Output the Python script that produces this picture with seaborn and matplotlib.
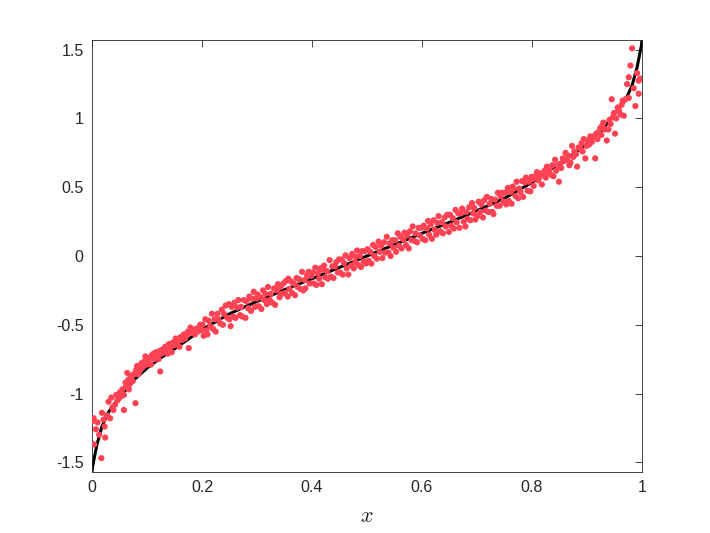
"""
Noisy samples scattered around a monotone S-shaped curve on [0, 1].
"""

import matplotlib
matplotlib.use('Agg')
import matplotlib.pyplot as plt
import seaborn as sns
import pandas as pd

# Curve
curve_x = [0, 0.001, 0.003, 0.009, 0.018, 0.03, 0.05, 0.075, 0.1, 0.125, 0.15,
           0.2, 0.25, 0.3, 0.35, 0.4, 0.45, 0.5, 0.55, 0.6, 0.65, 0.7, 0.75,
           0.8, 0.85, 0.875, 0.9, 0.925, 0.95, 0.97, 0.982, 0.991, 0.997, 0.999, 1]
curve_y = [-1.571, -1.53, -1.49, -1.37, -1.24, -1.135, -1.03, -0.905, -0.815,
           -0.74, -0.675, -0.535, -0.42, -0.33, -0.245, -0.165, -0.083, 0,
           0.083, 0.165, 0.245, 0.33, 0.42, 0.535, 0.675, 0.74, 0.815, 0.905,
           1.03, 1.135, 1.24, 1.37, 1.49, 1.53, 1.571]

# Samples
pts_x = [
    0.001, 0.003, 0.004, 0.007, 0.010, 0.013, 0.017, 0.018, 0.021, 0.023, 0.024,
    0.027, 0.030, 0.033, 0.035, 0.037, 0.039, 0.042, 0.044, 0.046, 0.048,
    0.051, 0.053, 0.055, 0.058, 0.058, 0.061, 0.062, 0.064, 0.066, 0.067, 0.069,
    0.070, 0.072, 0.074, 0.076, 0.079, 0.080, 0.082, 0.084, 0.086, 0.088, 0.090,
    0.092, 0.094, 0.097, 0.099,
    0.101, 0.103, 0.105, 0.107, 0.109, 0.112, 0.114, 0.116, 0.118, 0.121, 0.123,
    0.124, 0.126, 0.128, 0.131, 0.133, 0.136, 0.138, 0.140, 0.142, 0.145, 0.147,
    0.149,
    0.152, 0.154, 0.156, 0.159, 0.161, 0.164, 0.167, 0.169, 0.172, 0.174, 0.176,
    0.179, 0.181, 0.184, 0.187, 0.189, 0.192, 0.194, 0.197, 0.199,
    0.201, 0.203, 0.206, 0.208, 0.210, 0.212, 0.215, 0.218, 0.220, 0.223, 0.225,
    0.228, 0.230, 0.233, 0.236, 0.238, 0.240, 0.243, 0.246, 0.249, 0.250,
    0.252, 0.254, 0.257, 0.259, 0.261, 0.264, 0.266, 0.269, 0.271, 0.273, 0.276,
    0.279, 0.281, 0.284, 0.286, 0.289, 0.291, 0.294, 0.296, 0.299,
    0.301, 0.303, 0.306, 0.308, 0.311, 0.313, 0.315, 0.318, 0.320, 0.323, 0.325,
    0.328, 0.331, 0.333, 0.336, 0.338, 0.341, 0.343, 0.345, 0.348,
    0.351, 0.353, 0.356, 0.357, 0.359, 0.362, 0.364, 0.367, 0.369, 0.372, 0.374,
    0.377, 0.379, 0.382, 0.384, 0.387, 0.388, 0.391, 0.394, 0.396, 0.399,
    0.401, 0.403, 0.406, 0.408, 0.411, 0.413, 0.415, 0.418, 0.420, 0.422, 0.424,
    0.427, 0.429, 0.432, 0.434, 0.437, 0.439, 0.442, 0.444, 0.447, 0.449,
    0.451, 0.454, 0.456, 0.458, 0.461, 0.463, 0.466, 0.468, 0.471, 0.473, 0.476,
    0.478, 0.479, 0.482, 0.484, 0.487, 0.489, 0.491, 0.494, 0.496, 0.498,
    0.501, 0.503, 0.506, 0.508, 0.511, 0.513, 0.516, 0.518, 0.521, 0.523, 0.526,
    0.528, 0.531, 0.533, 0.536, 0.539, 0.541, 0.543, 0.546, 0.548,
    0.551, 0.553, 0.556, 0.558, 0.561, 0.563, 0.566, 0.568, 0.571, 0.573, 0.576,
    0.578, 0.581, 0.583, 0.586, 0.588, 0.591, 0.594, 0.596, 0.599,
    0.601, 0.603, 0.606, 0.609, 0.611, 0.613, 0.616, 0.618, 0.621, 0.623, 0.626,
    0.628, 0.630, 0.633, 0.636, 0.638, 0.641, 0.643, 0.646, 0.649,
    0.651, 0.653, 0.656, 0.658, 0.661, 0.663, 0.666, 0.668, 0.671, 0.673, 0.676,
    0.679, 0.681, 0.683, 0.686, 0.688, 0.691, 0.693, 0.695, 0.697,
    0.701, 0.703, 0.706, 0.708, 0.711, 0.713, 0.716, 0.718, 0.721, 0.723, 0.726,
    0.728, 0.730, 0.733, 0.736, 0.738, 0.741, 0.743, 0.745, 0.748,
    0.751, 0.753, 0.756, 0.758, 0.761, 0.763, 0.765, 0.767, 0.770, 0.772, 0.775,
    0.777, 0.779, 0.782, 0.784, 0.787, 0.789, 0.792, 0.794, 0.797, 0.799,
    0.801, 0.803, 0.806, 0.809, 0.811, 0.813, 0.816, 0.818, 0.821, 0.823, 0.825,
    0.827, 0.830, 0.832, 0.835, 0.837, 0.839, 0.842, 0.844, 0.847, 0.849,
    0.851, 0.853, 0.856, 0.858, 0.861, 0.863, 0.866, 0.868, 0.870, 0.873, 0.875,
    0.877, 0.880, 0.882, 0.885, 0.888, 0.890, 0.892, 0.894, 0.897, 0.899,
    0.901, 0.904, 0.906, 0.909, 0.912, 0.915, 0.917, 0.919, 0.921, 0.924, 0.926,
    0.928, 0.930, 0.933, 0.936, 0.939, 0.941, 0.943, 0.945, 0.947, 0.949,
    0.951, 0.953, 0.956, 0.958, 0.961, 0.963, 0.965, 0.967, 0.970, 0.973, 0.976,
    0.976, 0.979, 0.982, 0.985, 0.988, 0.991, 0.994, 0.994, 0.997,
]
pts_y = [
    -1.20, -1.18, -1.37, -1.26, -1.21, -1.30, -1.47, -1.14, -1.19, -1.24, -1.32,
    -1.16, -1.06, -1.18, -1.03, -1.10, -1.12, -1.08, -1.01, -1.05, -1.04,
    -0.99, -1.02, -0.97, -1.12, -1.01, -0.92, -0.95, -0.85, -0.90, -0.97, -0.93,
    -0.885, -0.87, -0.91, -0.86, -1.07, -0.83, -0.80, -0.86, -0.84, -0.82, -0.78,
    -0.81, -0.77, -0.73, -0.79,
    -0.77, -0.76, -0.74, -0.79, -0.72, -0.71, -0.75, -0.70, -0.73, -0.75, -0.69,
    -0.84, -0.71, -0.68, -0.70, -0.66, -0.67, -0.71, -0.64, -0.66, -0.70, -0.63,
    -0.65,
    -0.60, -0.64, -0.62, -0.66, -0.59, -0.61, -0.57, -0.60, -0.58, -0.55, -0.67,
    -0.52, -0.56, -0.54, -0.57, -0.53, -0.55, -0.52, -0.50, -0.54,
    -0.50, -0.58, -0.46, -0.54, -0.57, -0.47, -0.51, -0.42, -0.53, -0.46, -0.55,
    -0.42, -0.46, -0.49, -0.39, -0.50, -0.42, -0.36, -0.45, -0.35, -0.46,
    -0.51, -0.37, -0.44, -0.34, -0.45, -0.375, -0.32, -0.43, -0.37, -0.44, -0.32,
    -0.45, -0.33, -0.38, -0.295, -0.40, -0.31, -0.26, -0.37, -0.31,
    -0.28, -0.365, -0.30, -0.385, -0.25, -0.32, -0.275, -0.35, -0.225, -0.32,
    -0.275, -0.34, -0.235, -0.355, -0.25, -0.205, -0.30, -0.225, -0.275, -0.20,
    -0.27, -0.18, -0.295, -0.165, -0.24, -0.185, -0.27, -0.20, -0.285, -0.16,
    -0.225, -0.17, -0.24, -0.115, -0.25, -0.175, -0.235, -0.14, -0.115, -0.20,
    -0.145,
    -0.12, -0.20, -0.085, -0.21, -0.125, -0.165, -0.09, -0.205, -0.10, -0.07,
    -0.155, -0.11, -0.165, -0.03, -0.15, -0.075, -0.16, -0.075, -0.045, -0.12,
    -0.025,
    -0.12, -0.025, -0.135, -0.05, 0.005, -0.09, -0.135, -0.015, -0.07, 0.015,
    -0.09, -0.005, -0.045, 0.04, -0.065, 0.0, -0.08, 0.035, -0.04, 0.035, -0.055,
    0.05, -0.035, 0.03, -0.055, 0.08, 0.0, 0.065, -0.02, 0.105, 0.03, 0.075,
    -0.015, 0.10, 0.025, 0.14, 0.025, 0.09, 0.0, 0.115, 0.06,
    0.115, 0.03, 0.165, 0.075, 0.14, 0.055, 0.12, 0.17, 0.08, 0.15, 0.055,
    0.18, 0.115, 0.215, 0.11, 0.165, 0.10, 0.205, 0.15, 0.205,
    0.125, 0.22, 0.115, 0.20, 0.255, 0.155, 0.23, 0.125, 0.26, 0.19, 0.155,
    0.24, 0.29, 0.18, 0.245, 0.165, 0.28, 0.215, 0.30, 0.175,
    0.30, 0.22, 0.275, 0.20, 0.335, 0.245, 0.31, 0.205, 0.31, 0.345, 0.25,
    0.215, 0.32, 0.27, 0.355, 0.26, 0.385, 0.31, 0.35, 0.265,
    0.29, 0.395, 0.32, 0.375, 0.28, 0.405, 0.33, 0.43, 0.32, 0.38, 0.415,
    0.32, 0.305, 0.41, 0.365, 0.46, 0.365, 0.435, 0.46, 0.395,
    0.46, 0.375, 0.495, 0.40, 0.465, 0.38, 0.505, 0.49, 0.435, 0.54, 0.42,
    0.49, 0.465, 0.545, 0.43, 0.535, 0.57, 0.475, 0.54, 0.47, 0.575,
    0.56, 0.51, 0.58, 0.61, 0.55, 0.57, 0.60, 0.52, 0.59, 0.62, 0.57,
    0.65, 0.60, 0.63, 0.59, 0.66, 0.58, 0.70, 0.62, 0.66, 0.54,
    0.67, 0.64, 0.71, 0.69, 0.75, 0.70, 0.73, 0.66, 0.68, 0.80, 0.72,
    0.76, 0.74, 0.65, 0.79, 0.78, 0.82, 0.76, 0.85, 0.71, 0.80,
    0.84, 0.81, 0.87, 0.83, 0.87, 0.71, 0.89, 0.85, 0.90, 0.93, 0.88,
    0.95, 0.97, 0.92, 0.84, 0.92, 0.99, 0.96, 1.14, 1.01, 1.04,
    0.89, 1.00, 1.08, 1.06, 1.03, 1.10, 1.13, 1.02, 1.14, 1.25, 1.30,
    1.15, 1.385, 1.51, 1.22, 1.09, 1.33, 1.275, 1.18, 1.29,
]

x_ticks = [0, 0.2, 0.4, 0.6, 0.8, 1]
x_ticklabels = ['0', '0.2', '0.4', '0.6', '0.8', '1']
y_ticks = [-1.5, -1, -0.5, 0, 0.5, 1, 1.5]
y_ticklabels = ['-1.5', '-1', '-0.5', '0', '0.5', '1', '1.5']

DOT_COLOR = '#ff4254'
AXIS_COLOR = '#262626'

sns.set_style('white')
plt.rcParams['font.family'] = ['Liberation Sans', 'DejaVu Sans']
plt.rcParams['mathtext.fontset'] = 'cm'

samples = pd.DataFrame({'x': pts_x, 'y': pts_y})
curve = pd.DataFrame({'x': curve_x, 'y': curve_y})

fig = plt.figure(figsize=(7.1, 5.33), dpi=100)
ax = fig.add_axes([0.1296, 0.1144, 0.7746, 0.8106])

# line first, dots on top of it (as in the original)
sns.lineplot(data=curve, x='x', y='y', ax=ax, color='black', linewidth=2.2,
             sort=False, estimator=None, zorder=2)
sns.scatterplot(data=samples, x='x', y='y', ax=ax, color=DOT_COLOR, s=20,
                edgecolor='none', linewidth=0, zorder=3)

ax.set_xlim(0, 1)
ax.set_ylim(-1.5708, 1.5708)
ax.set_xticks(x_ticks)
ax.set_xticklabels(x_ticklabels)
ax.set_yticks(y_ticks)
ax.set_yticklabels(y_ticklabels)
ax.set_xlabel('$x$', fontsize=16, color=AXIS_COLOR, labelpad=8)
ax.set_ylabel('')

ax.tick_params(direction='in', length=5, width=0.6, colors=AXIS_COLOR,
               labelsize=11.5, top=True, right=True, pad=6)
for side in ax.spines.values():
    side.set_visible(True)
    side.set_color(AXIS_COLOR)
    side.set_linewidth(0.6)

fig.savefig('out.png', dpi=100, facecolor='white')
plt.close(fig)
